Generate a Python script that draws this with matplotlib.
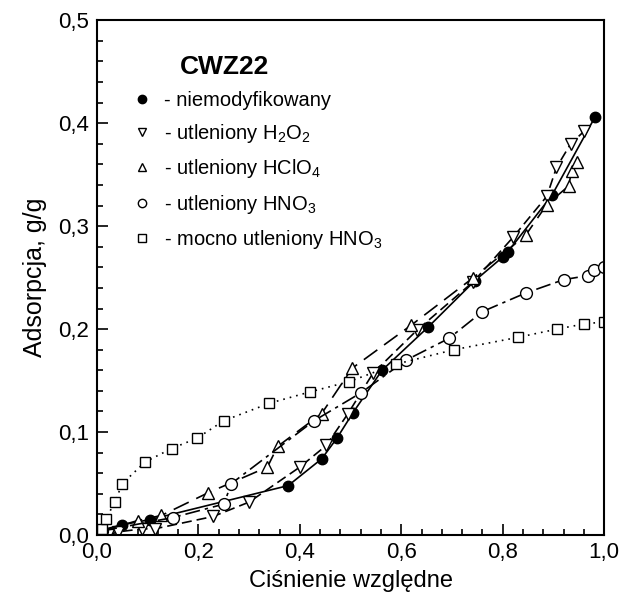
import numpy as np
import matplotlib
matplotlib.use("Agg")
import matplotlib.pyplot as plt
from matplotlib.ticker import MultipleLocator, FuncFormatter

plt.rcParams['font.family'] = ['Liberation Sans', 'DejaVu Sans']
plt.rcParams['mathtext.fontset'] = 'custom'
plt.rcParams['mathtext.rm'] = 'Liberation Sans'
plt.rcParams['mathtext.it'] = 'Liberation Sans'

# niemodyfikowany (filled circles)
x_niem = [0.01, 0.05, 0.105, 0.377, 0.443, 0.473, 0.505, 0.562, 0.653, 0.745, 0.80, 0.81, 0.897, 0.982]
y_niem = [0.005, 0.010, 0.015, 0.048, 0.074, 0.094, 0.119, 0.160, 0.202, 0.247, 0.270, 0.275, 0.330, 0.406]

# utleniony H2O2 (down triangles)
x_h2o2 = [0.022, 0.041, 0.089, 0.114, 0.229, 0.30, 0.40, 0.452, 0.495, 0.544, 0.631, 0.742, 0.82, 0.887, 0.906, 0.934, 0.960]
y_h2o2 = [0.000, 0.003, 0.006, 0.006, 0.018, 0.032, 0.066, 0.087, 0.118, 0.157, 0.199, 0.246, 0.289, 0.329, 0.357, 0.380, 0.392]

# utleniony HClO4 (up triangles)
x_hclo4 = [0.01, 0.08, 0.127, 0.219, 0.336, 0.356, 0.443, 0.503, 0.62, 0.742, 0.845, 0.887, 0.93, 0.936, 0.946]
y_hclo4 = [0.004, 0.014, 0.019, 0.041, 0.066, 0.086, 0.118, 0.162, 0.204, 0.250, 0.291, 0.321, 0.339, 0.354, 0.362]

# utleniony HNO3 (open circles)
x_hno3 = [0.01, 0.15, 0.25, 0.265, 0.428, 0.52, 0.61, 0.694, 0.76, 0.845, 0.92, 0.968, 0.98, 1.0]
y_hno3 = [0.004, 0.017, 0.030, 0.050, 0.111, 0.138, 0.170, 0.191, 0.217, 0.235, 0.248, 0.252, 0.257, 0.260]

# mocno utleniony HNO3 (open squares)
x_mocno = [0.01, 0.018, 0.035, 0.05, 0.095, 0.147, 0.197, 0.25, 0.34, 0.42, 0.497, 0.59, 0.704, 0.83, 0.907, 0.96, 1.0]
y_mocno = [0.006, 0.016, 0.032, 0.050, 0.071, 0.084, 0.094, 0.111, 0.128, 0.139, 0.149, 0.166, 0.180, 0.192, 0.200, 0.205, 0.207]

fig = plt.figure(figsize=(6.28, 6.07), dpi=100)
ax = fig.add_axes([0.1545, 0.1186, 0.8075, 0.848])

ms = 7.5
ax.plot(x_niem, y_niem, '-', color='black', lw=1.2, marker='o', ms=ms, mfc='black', mec='black',
        label='- niemodyfikowany')
ax.plot(x_h2o2, y_h2o2, color='black', lw=1.2, ls=(0, (6, 3)), marker='v', ms=ms + 1, mfc='white', mec='black',
        label='- utleniony H$_2$O$_2$')
ax.plot(x_hclo4, y_hclo4, color='black', lw=1.2, ls=(0, (10, 5)), marker='^', ms=ms + 1, mfc='white', mec='black',
        label='- utleniony HClO$_4$')
ax.plot(x_hno3, y_hno3, color='black', lw=1.2, ls=(0, (9, 3, 2, 3)), marker='o', ms=ms + 1, mfc='white', mec='black',
        label='- utleniony HNO$_3$')
ax.plot(x_mocno, y_mocno, color='black', lw=1.2, ls=(0, (1, 3)), marker='s', ms=ms, mfc='white', mec='black',
        label='- mocno utleniony HNO$_3$')

ax.set_xlim(0, 1.0)
ax.set_ylim(0, 0.5)

ax.xaxis.set_major_locator(MultipleLocator(0.2))
ax.xaxis.set_minor_locator(MultipleLocator(0.04))
ax.yaxis.set_major_locator(MultipleLocator(0.1))
ax.yaxis.set_minor_locator(MultipleLocator(0.02))
fmt = FuncFormatter(lambda v, p: f"{v:.1f}".replace('.', ','))
ax.xaxis.set_major_formatter(fmt)
ax.yaxis.set_major_formatter(fmt)
ax.tick_params(which='both', direction='in', top=False, right=False, labelsize=16, width=1.2)
ax.tick_params(which='major', length=8)
ax.tick_params(which='minor', length=4.5)
ax.tick_params(axis='x', pad=5)
ax.tick_params(axis='y', pad=6)
for s in ax.spines.values():
    s.set_linewidth(1.5)

ax.set_xlabel('Ciśnienie względne', fontsize=17, labelpad=5)
ax.set_ylabel('Adsorpcja, g/g', fontsize=18, labelpad=8)

ax.text(0.164, 0.455, 'CWZ22', fontsize=19, fontweight='bold', va='center', ha='left')
leg = ax.legend(loc='upper left', bbox_to_anchor=(0.069, 0.862), frameon=False, fontsize=14.5,
                handlelength=1.0, handletextpad=0.6, labelspacing=0.6, borderaxespad=0, borderpad=0)
for h in leg.legend_handles:
    h.set_linestyle('None')
    h.set_markersize(6)

fig.savefig('out.png', dpi=100)
